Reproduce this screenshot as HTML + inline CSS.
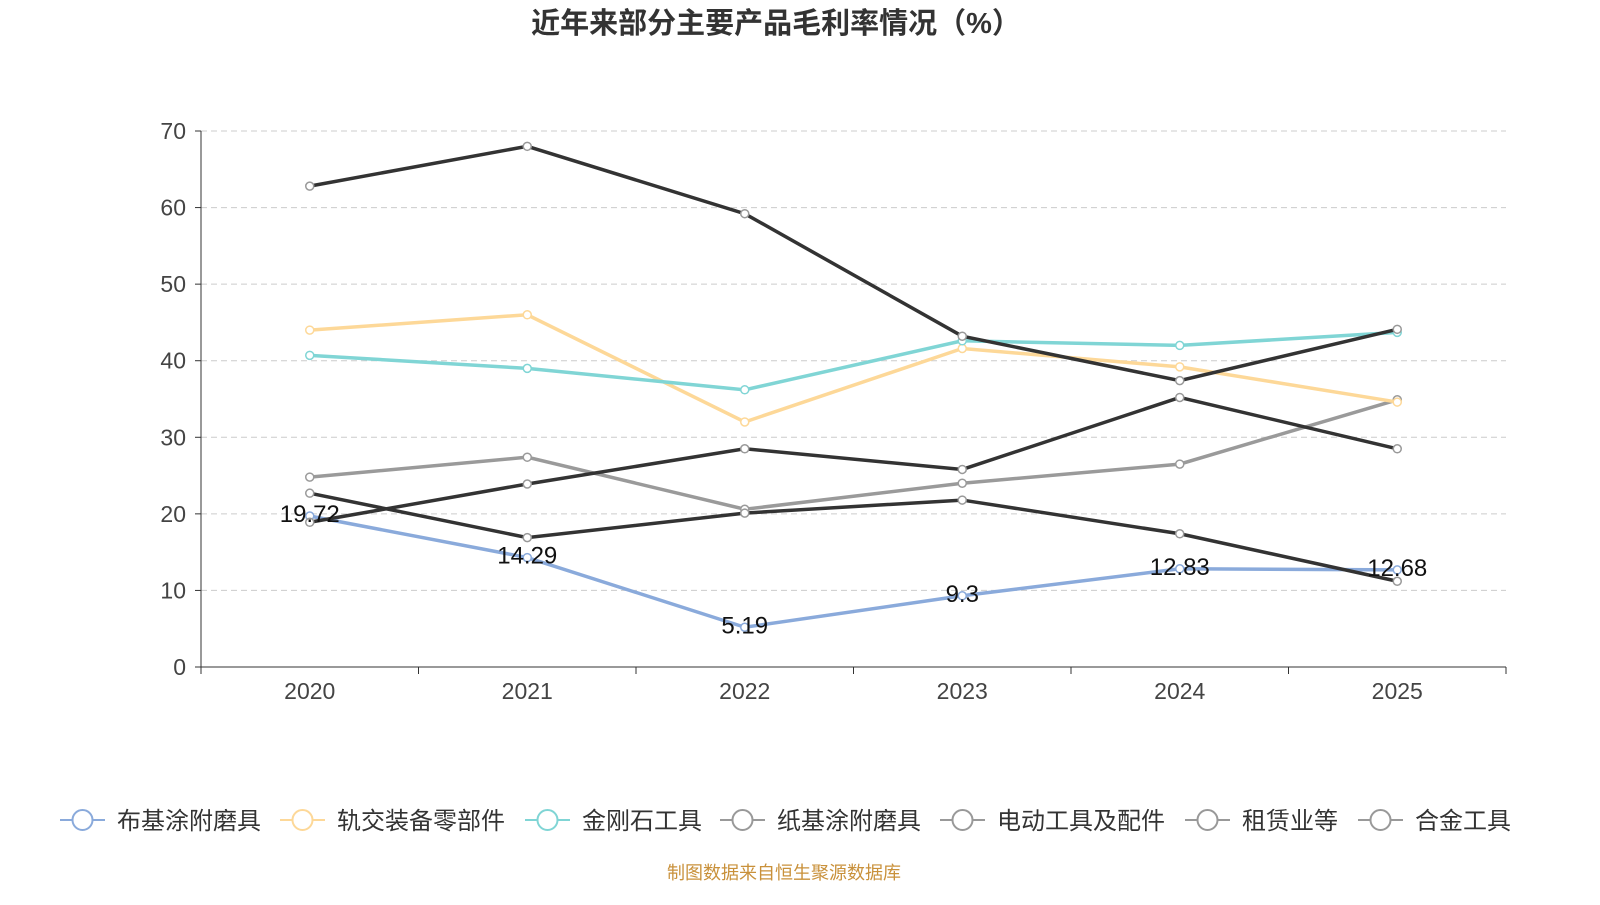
<!DOCTYPE html>
<html><head><meta charset="utf-8">
<style>
body{margin:0;background:#fff;width:1600px;height:900px;overflow:hidden;font-family:"Liberation Sans","Noto Sans CJK SC",sans-serif;}
svg text{font-family:"Liberation Sans","Noto Sans CJK SC",sans-serif;}
</style></head>
<body>
<svg id="chart" width="1600" height="900">
<text x="776" y="33" text-anchor="middle" font-size="29" font-weight="bold" fill="#333">近年来部分主要产品毛利率情况（%）</text>
<g id="grid"></g><g id="axes"></g><g id="series"></g><g id="legend"></g>
<text x="784" y="879" text-anchor="middle" font-size="18" fill="#c9913b">制图数据来自恒生聚源数据库</text>
</svg>
<script>
const categories=["2020","2021","2022","2023","2024","2025"];
const yTicks=[0,10,20,30,40,50,60,70];
const seriesNames=["布基涂附磨具","轨交装备零部件","金刚石工具","纸基涂附磨具","电动工具及配件","租赁业等","合金工具"];
const s1=[19.72,14.29,5.19,9.3,12.83,12.68];
const s2=[44.0,46.0,32.0,41.6,39.2,34.6];
const s3=[40.7,39.0,36.2,42.6,42.0,43.7];
const s4=[62.8,68.0,59.2,43.2,37.4,44.1];
const s5=[22.7,16.9,20.1,21.8,17.4,11.2];
const s6=[18.9,23.9,28.5,25.8,35.2,28.5];
const s7=[24.8,27.4,20.6,24.0,26.5,34.9];
const seriesData=[s1,s2,s3,s4,s5,s6,s7];
const colors=["#8aaadb","#fdd898","#80d5d5","#333333","#333333","#333333","#9a9a9a"];
const legendIcon=["#8aaadb","#fdd898","#80d5d5","#999","#999","#999","#999"];
const NS="http://www.w3.org/2000/svg";
const L=201,R=1506,T=131,B=667;
const bw=(R-L)/categories.length;
const xs=i=>L+bw*(i+0.5);
const ys=v=>B-(v/70)*(B-T);
function mk(tag,attrs,parent){const e=document.createElementNS(NS,tag);for(const k in attrs)e.setAttribute(k,attrs[k]);parent.appendChild(e);return e;}
const grid=document.getElementById('grid'),axes=document.getElementById('axes'),ser=document.getElementById('series'),leg=document.getElementById('legend');
yTicks.forEach(t=>{
 if(t>0){const g=mk('line',{x1:L,x2:R,y1:ys(t),y2:ys(t),stroke:'#ccc','stroke-dasharray':'6,4'},grid);
 
 }
 const tx=mk('text',{x:186,y:ys(t)+8,'text-anchor':'end','font-size':23,fill:'#444'},axes);tx.textContent=t;
 
 
 mk('line',{x1:195,x2:L,y1:ys(t),y2:ys(t),stroke:'#333'},axes);
});
mk('line',{x1:L,x2:L,y1:T,y2:B,stroke:'#333'},axes);
mk('line',{x1:L,x2:R,y1:B,y2:B,stroke:'#333'},axes);
for(let i=0;i<=categories.length;i++)mk('line',{x1:L+bw*i,x2:L+bw*i,y1:B,y2:B+7,stroke:'#333'},axes);
categories.forEach((c,i)=>{const tx=mk('text',{x:xs(i),y:699,'text-anchor':'middle','font-size':23,fill:'#444'},axes);tx.textContent=c;
 
 });
const order=[6,0,1,2,3,4,5];
order.forEach(si=>{
 const d=seriesData[si];
 const g=mk('g',{},ser);
 
 
 mk('polyline',{points:d.map((v,i)=>xs(i)+','+ys(v)).join(' '),fill:'none',stroke:colors[si],'stroke-width':3.5},g);
 d.forEach((v,i)=>{const c=mk('circle',{cx:xs(i),cy:ys(v),r:4,fill:'#fff',stroke:si>=3&&si<=5?'#999':colors[si],'stroke-width':1.5},g);
  
  });
});
s1.forEach((v,i)=>{const tx=mk('text',{x:xs(i),y:ys(v)+6,'text-anchor':'middle','font-size':24,fill:'#111'},ser);tx.textContent=v;
 
 });
const lx=[60,280,525,720,940,1185,1358];
seriesNames.forEach((n,i)=>{
 const g=mk('g',{},leg);
 
 
 mk('line',{x1:lx[i],x2:lx[i]+45,y1:820,y2:820,stroke:legendIcon[i],'stroke-width':2},g);
 mk('circle',{cx:lx[i]+22.5,cy:820,r:10,fill:'#fff',stroke:legendIcon[i],'stroke-width':2},g);
 const tx=mk('text',{x:lx[i]+57,y:829,'font-size':24,fill:'#333'},g);tx.textContent=n;
});
</script>
</body></html>
